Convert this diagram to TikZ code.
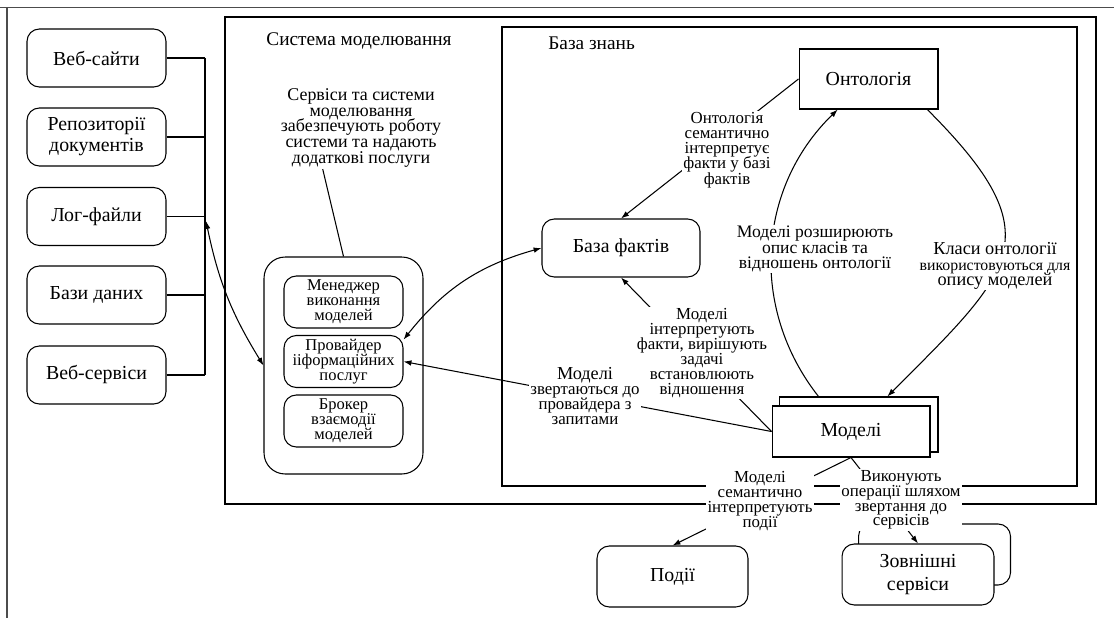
\documentclass[tikz,border=0pt]{standalone}
\usepackage{fontspec}
\setmainfont{Liberation Serif}
\usetikzlibrary{arrows.meta,calc}

\tikzset{
  srcbox/.style={draw, rounded corners=7pt, minimum width=2.78cm, minimum height=1.16cm,
    inner sep=0pt, align=center, font=\fontsize{11.3}{12}\selectfont},
  svcouter/.style={draw, rounded corners=12pt, minimum width=3.18cm, minimum height=4.34cm, inner sep=0pt},
  svcbox/.style={draw, rounded corners=7pt, minimum width=2.38cm, minimum height=1.04cm,
    inner sep=0pt, align=center, font={\fontsize{9.4}{8.6}\selectfont\lineskiplimit=-20pt}},
  rbox/.style={draw, fill=white, rounded corners=7pt, minimum width=3.16cm, minimum height=1.16cm,
    inner sep=0pt, align=center, font=\fontsize{11.3}{13.6}\selectfont},
  sqbox/.style={draw, fill=white, minimum width=2.78cm, minimum height=1.2cm,
    inner sep=0pt, align=center, font=\fontsize{11.3}{13.6}\selectfont},
  lbl/.style={fill=white, inner sep=0.6pt, align=center,
    font={\fontsize{9.6}{8.6}\selectfont\lineskiplimit=-20pt}}
}

\begin{document}
\begin{tikzpicture}[x=0.02cm, y=-0.02cm, line width=0.6pt, >={Latex[length=4.5pt,width=3.2pt]}]
  \useasboundingbox (0,0) rectangle (1114,618);
  % page frame
  \draw[black!70, line width=1.1pt] (0,7.5) -- (1114,7.5);
  \draw[black!70, line width=1.1pt] (7,7.5) -- (7,618);

  % data sources
  \node[srcbox] (web) at (96.5,58) {Веб-сайти};
  \node[srcbox] (repo) at (96.5,137) {Репозиторії\\документів};
  \node[srcbox] (logs) at (96.5,216.5) {Лог-файли};
  \node[srcbox] (db) at (96.5,295) {Бази даних};
  \node[srcbox] (wsrv) at (96.5,375) {Веб-сервіси};
  \coordinate (bustop) at (205,58);
  \coordinate (busbot) at (205,375);
  \coordinate (busarr) at (206,221);
  \draw (bustop) -- (busbot);
  \foreach \src in {web,repo,logs,db,wsrv}
    \draw (\src.east) -- (\src.east -| bustop);

  % modelling system
  \draw (225,17) rectangle (1096,504);
  \node[anchor=west, font=\fontsize{11}{13}\selectfont] (syslbl) at (260,41) {Система моделювання};
  \node[align=center, inner sep=0.6pt, font={\fontsize{10.2}{9}\selectfont\lineskiplimit=-20pt}] (svclbl) at (361,128)
    {Сервіси та системи\\моделювання\\забезпечують роботу\\системи та надають\\додаткові послуги};
  \node[svcouter] (svc) at (343.5,365.5) {};
  \node[svcbox] (mgr) at (343.5,302) {Менеджер\\виконання\\моделей};
  \node[svcbox] (prov) at (343.5,361.5) {Провайдер\\ііформаційних\\послуг};
  \node[svcbox] (brk) at (343.5,421) {Брокер\\взаємодії\\моделей};

  % knowledge base
  \draw (502,27) rectangle (1077,486);
  \node[anchor=west, font=\fontsize{11}{13}\selectfont] (kblbl) at (542,43) {База знань};
  \node[sqbox] (onto) at (868.5,79) {Онтологія};
  \node[rbox] (facts) at (621,248) {База фактів};
  \node[sqbox, minimum width=3.18cm, minimum height=1.1cm] (mback) at (858.5,424.5) {};
  \node[sqbox, minimum width=3.16cm, minimum height=1.02cm] (models) at (851,431.5) {Моделі};

  % outside
  \node[rbox, minimum width=3.02cm, minimum height=1.22cm] (events) at (672.5,576.5) {Події};
  \node[rbox, minimum width=3.04cm, minimum height=1.22cm] (extback) at (934.5,554.5) {};
  \node[rbox, minimum width=3.04cm, minimum height=1.22cm] (ext) at (918,574.5) {Зовнішні\\сервіси};

  % connectors
  \draw[<->] (busarr) to[bend right=10] (svc.west);
  \draw (svclbl.-133) -- (svc.north);
  \draw[<->] (prov.20) to[bend left=18] (facts.west);
  \draw[->] (onto.west) -- (facts.north);
  \draw[->] (models.west) -- (prov.east);
  \draw[->] (models.west) -- (facts.south);
  \coordinate (mtopL) at ($(mback.north west)!0.25!(mback.north east)$);
  \coordinate (ontoL) at ($(onto.south west)!0.28!(onto.south east)$);
  \coordinate (ontoR) at ($(onto.south west)!0.92!(onto.south east)$);
  \coordinate (mtopR) at ($(mback.north west)!0.68!(mback.north east)$);
  \draw[->] (mtopL) to[bend left=42] (ontoL);
  \draw[->] (ontoR) .. controls ($(ontoR)+(127,127)$) and ($(mtopR)+(127,-127)$) .. (mtopR);
  \draw[->] (models.south) -- (events.north);
  \draw[->] (models.south) -- (ext.north);

  % labels
  \node[lbl] (ontolbl) at (727,150) {Онтологія\\семантично\\інтерпретує\\факти у базі\\фактів};
  \node[lbl, font={\fontsize{10}{8.8}\selectfont\lineskiplimit=-20pt}] (extlbl) at (815,249)
    {Моделі розширюють\\опис класів та\\відношень онтології};
  \node[lbl, font={\fontsize{10.4}{8.6}\selectfont\lineskiplimit=-20pt}] (classlbl) at (995,266)
    {Класи онтології\\{\fontsize{9}{8.6}\selectfont використовуються для}\\опису моделей};
  \node[lbl] (interplbl) at (702,353)
    {Моделі\\інтерпретують\\факти, вирішують\\задачі\\встановлюють\\відношення};
  \node[lbl] (querylbl) at (585,396)
    {{\fontsize{10.4}{8.6}\selectfont Моделі}\\звертаються до\\провайдера з\\запитами};
  \node[lbl, font={\fontsize{9.6}{8.4}\selectfont\lineskiplimit=-20pt}] (eventlbl) at (760,501)
    {Моделі\\семантично\\інтерпретують\\події};
  \node[lbl, font={\fontsize{9.6}{8.4}\selectfont\lineskiplimit=-20pt}] (execlbl) at (901,500)
    {Виконують\\операції шляхом\\звертання до\\сервісів};
\end{tikzpicture}
\end{document}
